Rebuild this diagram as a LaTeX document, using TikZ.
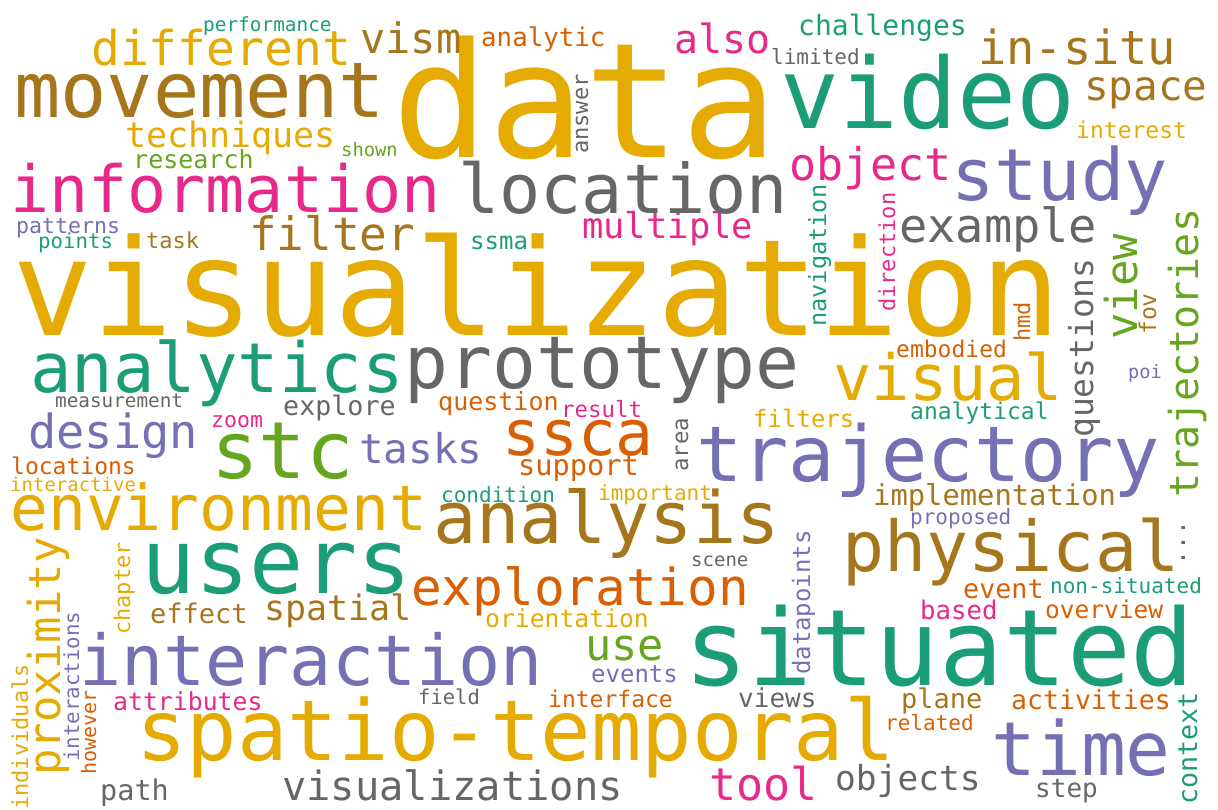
\documentclass[tikz,border=0pt]{standalone}
\usepackage{fontspec}
\newfontfamily\cloudfont{DejaVu Sans Mono}
\definecolor{cteal}{HTML}{1B9E77}
\definecolor{corange}{HTML}{D95F02}
\definecolor{cpurple}{HTML}{7570B3}
\definecolor{cpink}{HTML}{E7298A}
\definecolor{cgreen}{HTML}{66A61E}
\definecolor{cgold}{HTML}{E6AB02}
\definecolor{cbrown}{HTML}{A6761D}
\definecolor{cgray}{HTML}{666666}

\begin{document}
\begin{tikzpicture}
  [x=1pt,y=-1pt,
   word/.style={anchor=base west,inner sep=0pt,font=\cloudfont},
   upword/.style={word,rotate=90}
  ]
  \useasboundingbox (0,0) rectangle (1218,809);

  % gold
  \begin{scope}[color=cgold]
    \foreach \w/\x/\y/\s in {data/392/157/160,visualization/12/335/134,spatio-temporal/136/760/84,
        environment/10/530/63,different/91/65/48,techniques/125/147/35,visual/833/400/63.6,
        interest/1076/138/23,interactive/10/491/19,important/598/500/21,filters/753/427/24,
        orientation/485/627/24.7}
      \node[word] (\w) at (\x,\y) {\fontsize{\s}{\s}\selectfont\w};
    \foreach \w/\x/\y/\s in {proximity/60/776/44,individuals/28/810/22,chapter/130/635/22}
      \node[upword] (\w) at (\x,\y) {\fontsize{\s}{\s}\selectfont\w};
  \end{scope}

  % brown
  \begin{scope}[color=cbrown]
    \foreach \w/\x/\y/\s in {movement/14/117/77,vism/360/53/42,filter/249/250/46,task/146/248/22,
        in-situ/978/64/47,space/1084/100/41,analysis/433/543/72,implementation/873/505/28.8,
        physical/842/571/70,effect/150/623/27,spatial/264/620/35,plane/901/708/27}
      \node[word] (\w) at (\x,\y) {\fontsize{\s}{\s}\selectfont\w};
    \node[upword] (fov) at (1156,335) {\fontsize{23}{23}\selectfont fov};
  \end{scope}

  % teal
  \begin{scope}[color=cteal]
    \foreach \w/\x/\y/\s in {video/780/128/98,performance/203/31/19.4,challenges/798/35/28,
        analytics/30/392/69,users/141/593/90,situated/684/685/106,ssma/470/249/24,
        analytical/910/419/23,condition/441/502/21,non-situated/1050/593/21,points/38/248/20.7}
      \node[word] (\w) at (\x,\y) {\fontsize{\s}{\s}\selectfont\w};
    \foreach \w/\x/\y/\s in {navigation/826/327/23.6,context/1197/805/26.7}
      \node[upword] (\w) at (\x,\y) {\fontsize{\s}{\s}\selectfont\w};
  \end{scope}

  % pink
  \begin{scope}[color=cpink]
    \foreach \w/\x/\y/\s in {information/10/212/65,also/674/53/40,object/789/180/45,
        multiple/582/238/35.5,result/561/417/22.4,zoom/211/427/21.5,attributes/113/710/24.8,
        based/920/619/25.7,tool/709/800/45}
      \node[word] (\w) at (\x,\y) {\fontsize{\s}{\s}\selectfont\w};
    \node[upword] (direction) at (895,312) {\fontsize{22}{22}\selectfont direction};
  \end{scope}

  % purple
  \begin{scope}[color=cpurple]
    \foreach \w/\x/\y/\s in {study/951/200/72,trajectory/696/481/77,time/991/775/74.6,
        interaction/79/685/70,design/28/448/47,tasks/359/463/41,patterns/16/233/21.6,
        poi/1128/378/18.6,proposed/910/524/21,events/591/682/24}
      \node[word] (\w) at (\x,\y) {\fontsize{\s}{\s}\selectfont\w};
    \foreach \w/\x/\y/\s in {interactions/79/762/20.8,datapoints/810/675/24}
      \node[upword] (\w) at (\x,\y) {\fontsize{\s}{\s}\selectfont\w};
  \end{scope}

  % orange
  \begin{scope}[color=corange]
    \foreach \w/\x/\y/\s in {analytic/481/46/25.8,ssca/502/455/63,question/438/410/25,
        support/518/475/28.6,exploration/411/605/51,interface/548/707/23,locations/11/474/23,
        embodied/896/357/23,event/963/598/26.7,overview/1045/618/24.5,activities/1011/709/26.5,
        related/885/730/21}
      \node[word] (\w) at (\x,\y) {\fontsize{\s}{\s}\selectfont\w};
    \foreach \w/\x/\y/\s in {hmd/1030/342/22,however/96/775/20}
      \node[upword] (\w) at (\x,\y) {\fontsize{\s}{\s}\selectfont\w};
  \end{scope}

  % green
  \begin{scope}[color=cgreen]
    \foreach \w/\x/\y/\s in {stc/211/478/79,shown/341/156/18.8,research/133/168/25,use/585/660/43.6}
      \node[word] (\w) at (\x,\y) {\fontsize{\s}{\s}\selectfont\w};
    \foreach \w/\x/\y/\s in {view/1137/340/44,trajectories/1198/498/40}
      \node[upword] (\w) at (\x,\y) {\fontsize{\s}{\s}\selectfont\w};
  \end{scope}

  % gray
  \begin{scope}[color=cgray]
    \foreach \w/\x/\y/\s in {location/458/213/68.5,prototype/404/388/73,example/899/242/47,
        limited/771/64/21,measurement/55/407/19.3,explore/283/415/26.7,scene/691/566/19,
        field/418/704/20.5,views/738/707/26,objects/835/790/34.5,step/1035/797/26,
        visualizations/282/800/40.4,path/100/800/28.5}
      \node[word] (\w) at (\x,\y) {\fontsize{\s}{\s}\selectfont\w};
    \foreach \w/\x/\y/\s in {answer/588/154/22,questions/1093/438/33,area/688/472/22.4}
      \node[upword] (\w) at (\x,\y) {\fontsize{\s}{\s}\selectfont\w};
    \node[upword] (dots) at (1185,566) {\fontsize{25}{25}\selectfont ...};
  \end{scope}
\end{tikzpicture}
\end{document}
